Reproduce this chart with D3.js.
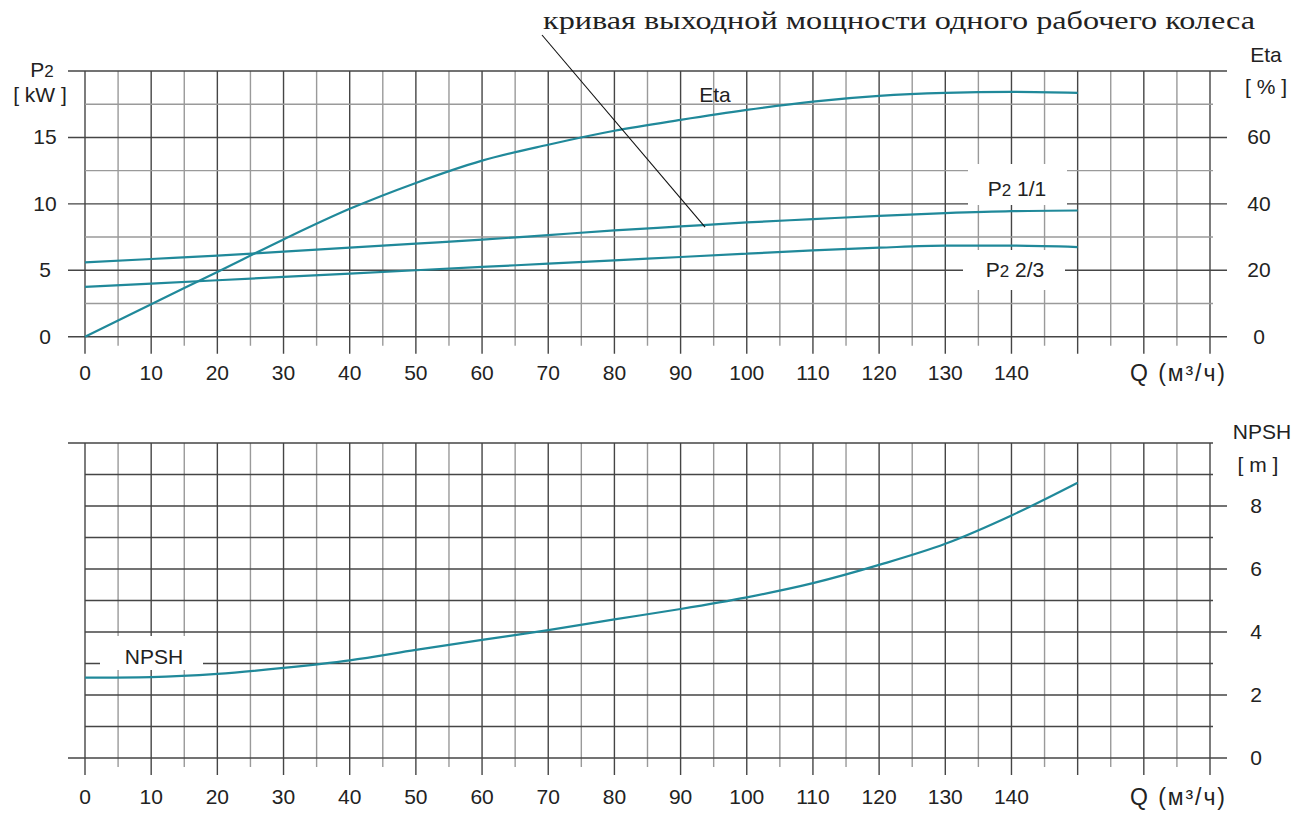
<!DOCTYPE html>
<html lang="ru">
<head>
<meta charset="UTF-8">
<title>Pump curves</title>
<script src="https://cdn.jsdelivr.net/npm/d3@7"></script>
<style>
  body { margin: 0; background: #fff; }
  text { font-family: "Liberation Sans", Arial, sans-serif; fill: #222; }
</style>
</head>
<body>
<script>
// данные
var flow = [0, 10, 20, 30, 40, 50, 60, 70, 80, 90, 100, 110, 120, 130, 140, 150];
var eta = [0, 9.8, 19.5, 29.3, 38.5, 46.3, 53, 57.8, 62, 65.3, 68.3, 70.8, 72.5, 73.4, 73.7, 73.4];
var p2Full = [5.6, 5.85, 6.1, 6.4, 6.7, 7.0, 7.3, 7.65, 8.0, 8.3, 8.6, 8.85, 9.1, 9.3, 9.45, 9.5];
var p2TwoThirds = [3.75, 4.0, 4.25, 4.5, 4.75, 5.0, 5.25, 5.5, 5.75, 6.0, 6.25, 6.5, 6.7, 6.85, 6.85, 6.75];
var npsh = [2.55, 2.57, 2.67, 2.86, 3.1, 3.43, 3.75, 4.06, 4.4, 4.73, 5.1, 5.55, 6.13, 6.8, 7.7, 8.74];

var qTicks = [0, 10, 20, 30, 40, 50, 60, 70, 80, 90, 100, 110, 120, 130, 140];
var p2Ticks = [0, 5, 10, 15];
var etaTicks = [0, 20, 40, 60];
var npshTicks = [0, 2, 4, 6, 8];

var width = 1301, height = 814;
var svg = d3.select("body").append("svg").attr("width", width).attr("height", height);

var darkGrid = "#454545", lightGrid = "#9a9a9a", curveColor = "#20899a";
var fs = 21;

// шкалы
var x = d3.scaleLinear().domain([0, 170]).range([85, 1210]);
var yP = d3.scaleLinear().domain([0, 20]).range([336.7, 71]);
var yE = d3.scaleLinear().domain([0, 80]).range([336.7, 71]);
var yN = d3.scaleLinear().domain([0, 10]).range([758, 443]);

function grid(g, y, yMax, yStep, leftTicks, rightTicks, minorDark) {
	// вертикальные линии через 5
	d3.range(0, 171, 5).forEach(function (q) {
		var major = q % 10 === 0;
		g.append("line")
			.attr("x1", x(q)).attr("x2", x(q))
			.attr("y1", y(yMax)).attr("y2", y(0) + (major ? 17 : 9))
			.attr("stroke", major ? darkGrid : lightGrid)
			.attr("stroke-width", 1.4);
	});
	// горизонтальные линии
	d3.range(0, yMax + 0.001, yStep).forEach(function (v) {
		var isLeft = leftTicks.indexOf(v) >= 0 || v === 0 || v === yMax;
		var isRight = rightTicks(v);
		g.append("line")
			.attr("x1", isLeft ? 68 : 85)
			.attr("x2", isRight ? 1227 : 1213)
			.attr("y1", y(v)).attr("y2", y(v))
			.attr("stroke", (isRight || minorDark) ? darkGrid : lightGrid)
			.attr("stroke-width", 1.4);
	});
}

// верхний график
var gTop = svg.append("g");
grid(gTop, yP, 20, 2.5, [0, 5, 10, 15, 20], function (v) { return v % 5 === 0; }, false);

// нижний график
var gBottom = svg.append("g");
grid(gBottom, yN, 10, 1, [], function (v) { return v % 2 === 0 && v !== 10; }, true);

// подписи оси Q
[[gTop, 380], [gBottom, 804]].forEach(function (d) {
	d[0].selectAll(".qt").data(qTicks).enter().append("text")
		.attr("x", function (q) { return x(q); })
		.attr("y", d[1])
		.attr("text-anchor", "middle")
		.attr("font-size", fs)
		.text(function (q) { return q; });
	d[0].append("text").attr("x", 1130).attr("y", d[1] + 1)
		.attr("font-size", 23)
		.attr("textLength", 95).attr("lengthAdjust", "spacing")
		.text("Q (м³/ч)");
});

// подписи осей Y
gTop.selectAll(".pt").data(p2Ticks).enter().append("text")
	.attr("x", 45).attr("y", function (v) { return yP(v) + 7; })
	.attr("text-anchor", "middle").attr("font-size", fs)
	.text(function (v) { return v; });
gTop.selectAll(".et").data(etaTicks).enter().append("text")
	.attr("x", 1259).attr("y", function (v) { return yE(v) + 7; })
	.attr("text-anchor", "middle").attr("font-size", fs)
	.text(function (v) { return v; });
gBottom.selectAll(".nt").data(npshTicks).enter().append("text")
	.attr("x", 1256).attr("y", function (v) { return yN(v) + 7; })
	.attr("text-anchor", "middle").attr("font-size", fs)
	.text(function (v) { return v; });

var p2lab = svg.append("text").attr("x", 42).attr("y", 77).attr("text-anchor", "middle").attr("font-size", fs);
p2lab.append("tspan").text("P");
p2lab.append("tspan").attr("font-size", 17).text("2");
svg.append("text").attr("x", 40).attr("y", 102).attr("text-anchor", "middle").attr("font-size", fs).text("[ kW ]");
svg.append("text").attr("x", 1266).attr("y", 62).attr("text-anchor", "middle").attr("font-size", fs).text("Eta");
svg.append("text").attr("x", 1266).attr("y", 94).attr("text-anchor", "middle").attr("font-size", fs).text("[ % ]");
svg.append("text").attr("x", 1262).attr("y", 439).attr("text-anchor", "middle").attr("font-size", fs).text("NPSH");
svg.append("text").attr("x", 1258).attr("y", 472).attr("text-anchor", "middle").attr("font-size", fs).text("[ m ]");

// белые подложки под подписями кривых
svg.append("rect").attr("x", 968).attr("y", 164).attr("width", 99).attr("height", 41).attr("fill", "#fff");
svg.append("rect").attr("x", 963).attr("y", 250).attr("width", 102).attr("height", 40).attr("fill", "#fff");
svg.append("rect").attr("x", 100).attr("y", 636).attr("width", 103).attr("height", 34).attr("fill", "#fff");

// кривые
var lineP = d3.line().x(function (d, i) { return x(flow[i]); }).curve(d3.curveMonotoneX);
function drawCurve(values, y) {
	svg.append("path")
		.attr("d", lineP.y(function (d) { return y(d); })(values))
		.attr("fill", "none")
		.attr("stroke", curveColor)
		.attr("stroke-width", 2.2);
}
drawCurve(eta, yE);
drawCurve(p2Full, yP);
drawCurve(p2TwoThirds, yP);
drawCurve(npsh, yN);

// подписи кривых
svg.append("text").attr("x", 715).attr("y", 102).attr("text-anchor", "middle").attr("font-size", fs).text("Eta");
var l1 = svg.append("text").attr("x", 1017).attr("y", 196).attr("text-anchor", "middle").attr("font-size", fs);
l1.append("tspan").text("P");
l1.append("tspan").attr("font-size", 17).text("2");
l1.append("tspan").text(" 1/1");
var l2 = svg.append("text").attr("x", 1015).attr("y", 277).attr("text-anchor", "middle").attr("font-size", fs);
l2.append("tspan").text("P");
l2.append("tspan").attr("font-size", 17).text("2");
l2.append("tspan").text(" 2/3");
svg.append("text").attr("x", 154).attr("y", 664).attr("text-anchor", "middle").attr("font-size", fs).text("NPSH");

// выноска
svg.append("line")
	.attr("x1", 542).attr("y1", 35)
	.attr("x2", x(93.7)).attr("y2", yP(8.25))
	.attr("stroke", "#111").attr("stroke-width", 1.1);
svg.append("text")
	.attr("x", 543).attr("y", 29)
	.style("font-family", "'Liberation Serif', 'Times New Roman', serif")
	.attr("font-size", 25)
	.attr("textLength", 712).attr("lengthAdjust", "spacingAndGlyphs")
	.text("кривая выходной мощности одного рабочего колеса");
</script>
</body>
</html>
